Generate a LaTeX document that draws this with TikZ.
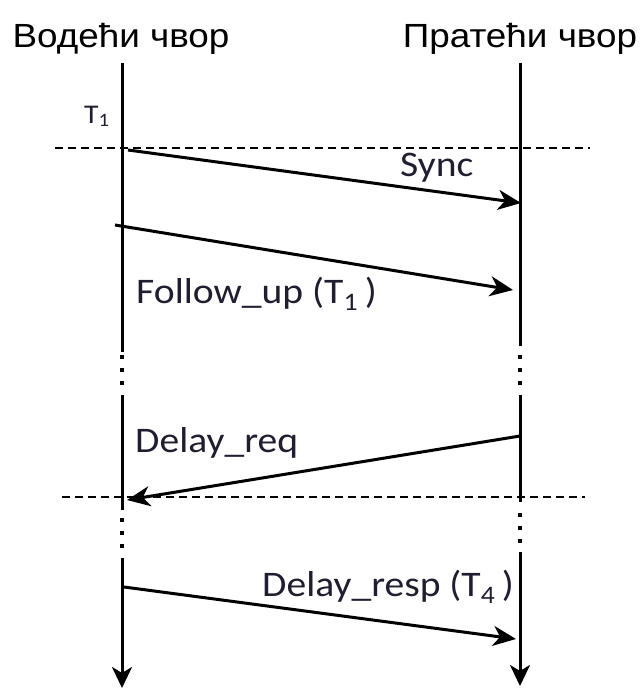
\documentclass[tikz,border=0pt]{standalone}
\usepackage{fontspec}
\setmainfont{Carlito}
\newfontfamily\titlefont{Liberation Sans}
\usetikzlibrary{arrows.meta}
\definecolor{ink}{RGB}{30,30,48}

\begin{document}
\begin{tikzpicture}[x=1pt,y=-1pt,
  life/.style={line width=3pt},
  lifeend/.style={line width=3pt,-{Stealth[length=21pt,width=20pt,inset=6pt]}},
  msg/.style={line width=3pt,-{Stealth[length=23pt,width=20pt,inset=7pt]}},
  guide/.style={line width=1.4pt,dash pattern=on 8pt off 5pt},
  gapdots/.style={line width=3.4pt,dash pattern=on 4pt off 9pt},
  lbl/.style={font=\fontsize{36}{38}\selectfont,text=ink,inner sep=0pt,
    xscale=1.1,anchor=base west},
  title/.style={font=\titlefont\fontsize{33.5}{36}\selectfont,inner sep=0pt,
    xscale=1.1,anchor=base}
]
\useasboundingbox (0,0) rectangle (643,688);

% participants
\node[title] (master) at (121,47) {Водећи чвор};
\node[title] (slave)  at (520,47) {Пратећи чвор};

% lifeline key points, master side
\coordinate (m0) at (122,63);
\coordinate (m1) at (122,352);
\coordinate (m2) at (122,395);
\coordinate (m3) at (122,510);
\coordinate (m4) at (122,558);
\coordinate (m5) at (122,688);
% lifeline key points, slave side
\coordinate (s0) at (520,63);
\coordinate (s1) at (520,346);
\coordinate (s2) at (520,395);
\coordinate (s3) at (520,502);
\coordinate (s4) at (520,552);
\coordinate (s5) at (520,686);

% master lifeline
\draw[life] (m0) -- (m1);
\draw[gapdots] (122,355) -- (122,390);
\draw[life] (m2) -- (m3);
\draw[gapdots] (122,518) -- (122,552);
\draw[lifeend] (m4) -- (m5);

% slave lifeline
\draw[life] (s0) -- (s1);
\draw[gapdots] (520,355) -- (520,390);
\draw[life] (s2) -- (s3);
\draw[gapdots] (520,513) -- (520,547);
\draw[lifeend] (s4) -- (s5);

% time reference lines
\coordinate (g1a) at (55,148);
\coordinate (g1b) at (590,148);
\coordinate (g2a) at (62,497);
\coordinate (g2b) at (585,497);
\draw[guide] (g1a) -- (g1b);
\draw[guide] (g2a) -- (g2b);

% messages
\coordinate (syncA) at (128,150);
\coordinate (syncB) at (521,203);
\draw[msg] (syncA) -- (syncB);
\node[lbl] (sync) at (400,176) {Sync};

\coordinate (fuA) at (115,225);
\coordinate (fuB) at (513,290);
\draw[msg] (fuA) -- (fuB);
\node[lbl] (fu) at (136,303) {Follow\_up (T\textsubscript{1}\,)};

\coordinate (drA) at (520,436);
\coordinate (drB) at (127,500);
\draw[msg] (drA) -- (drB);
\node[lbl] (dreq) at (135,452) {Delay\_req};

\coordinate (dsA) at (124,587);
\coordinate (dsB) at (516,639);
\draw[msg] (dsA) -- (dsB);
\node[lbl] (dresp) at (262,596) {Delay\_resp (T\textsubscript{4}\,)};

\node[lbl,font=\fontsize{27}{29}\selectfont] (t1) at (84,123) {T\textsubscript{1}};
\end{tikzpicture}
\end{document}
